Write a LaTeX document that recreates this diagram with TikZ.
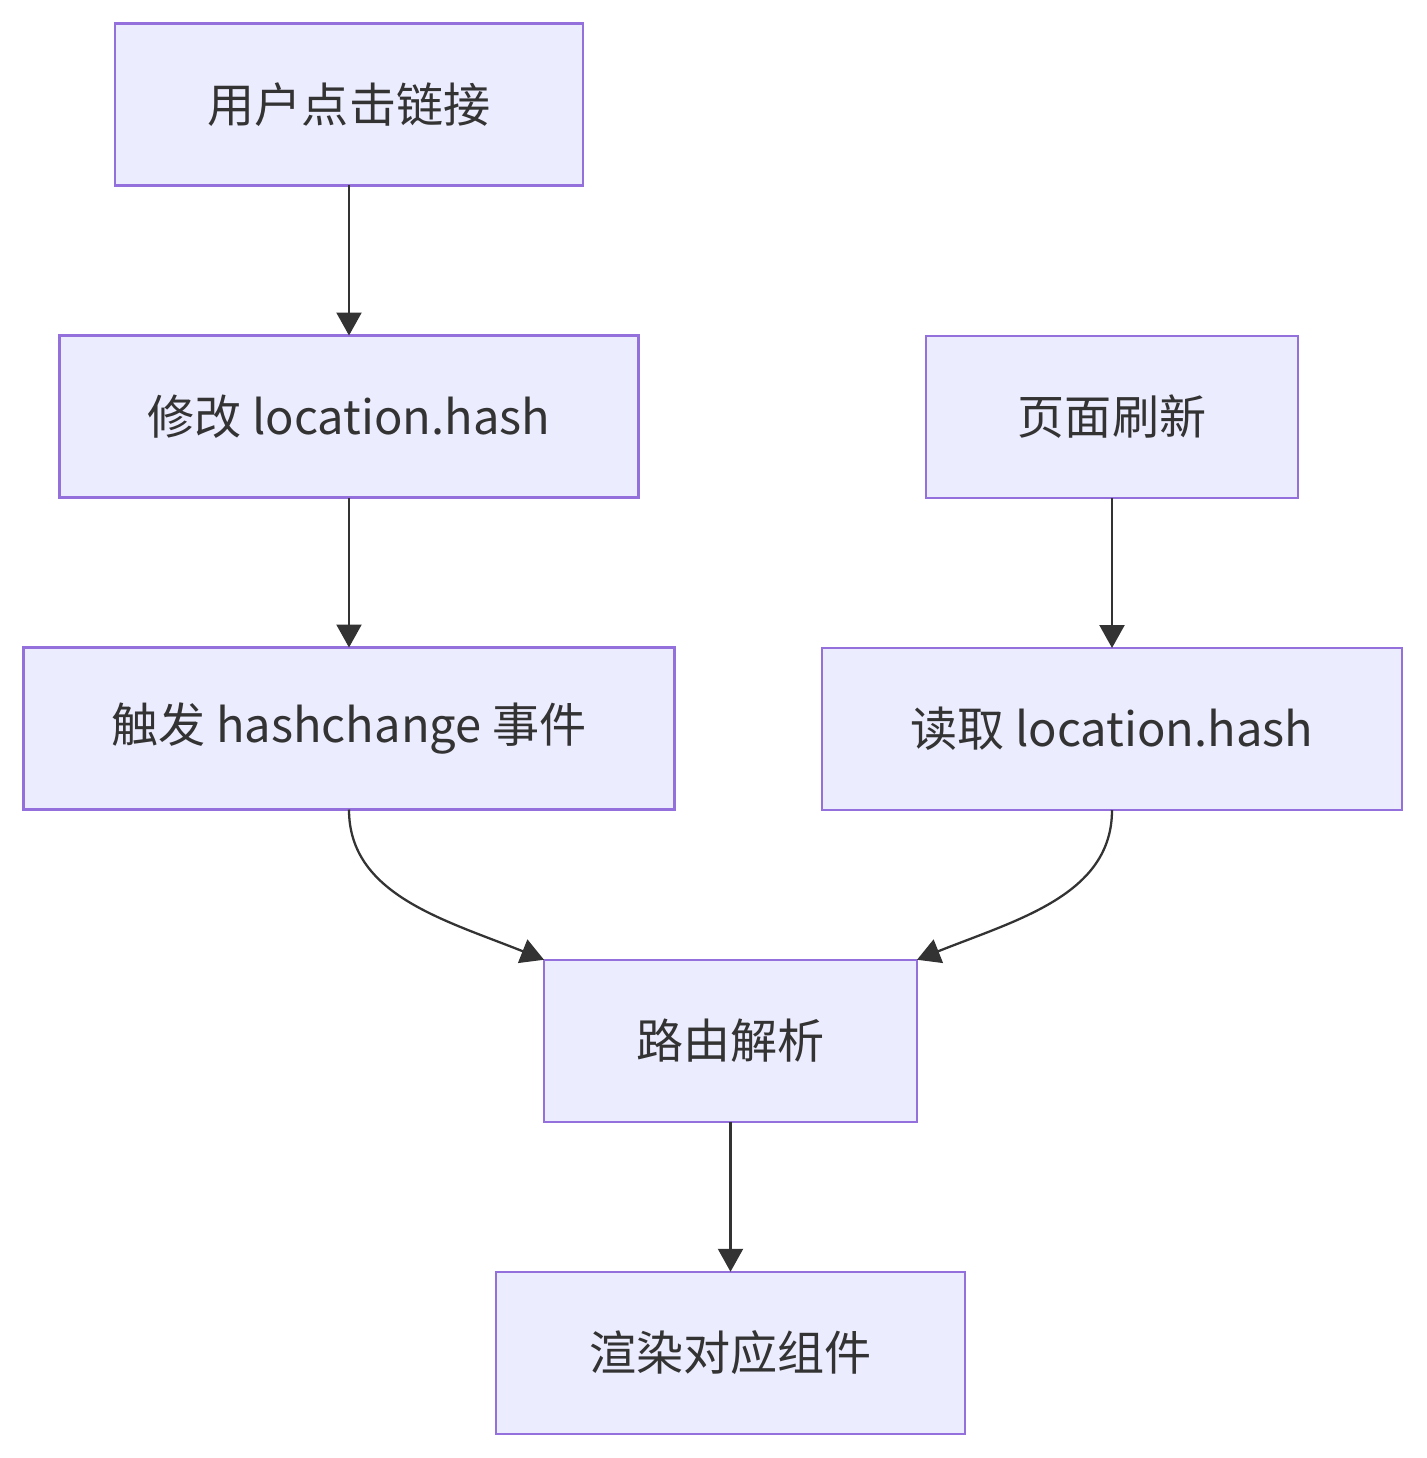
\documentclass[tikz,border=0pt]{standalone}
\usepackage{fontspec}
\setmainfont{Noto Sans CJK SC}
\usetikzlibrary{arrows.meta}
\usetikzlibrary{positioning, calc}

\definecolor{boxfill}{HTML}{ECECFF}
\definecolor{boxline}{HTML}{9370DB}
\definecolor{ink}{HTML}{333333}

\tikzset{
  box/.style={draw=boxline, fill=boxfill, line width=1.4pt, minimum height=3.24cm,
              text=ink, font=\fontsize{26.8}{32}\selectfont, inner sep=0pt, outer sep=0pt},
  flow/.style={draw=ink, line width=1.3pt, -{Triangle[length=0.46cm, width=0.5cm]}}
}

\begin{document}
\begin{tikzpicture}
  \useasboundingbox (0,0) rectangle (28.52,-29.16);

  % Nodes
  \node[box, minimum width=9.36cm] (click) at (6.98,-2.09) {用户点击链接};          % user action
  \node[box, minimum width=11.58cm, below=3cm of click] (modify) {修改 location.hash};
  \node[box, minimum width=13.02cm, below=3cm of modify] (trig) {触发 hashchange 事件};
  \node[box, minimum width=7.44cm] (refresh) at (22.24,-8.34) {页面刷新};           % reload path
  \node[box, minimum width=11.6cm, below=3cm of refresh] (read) {读取 location.hash};
  \coordinate (mid) at ($(trig.south)!0.5!(read.south)$);
  \node[box, minimum width=7.46cm, below=3cm of mid] (route) {路由解析};             % both paths meet
  \node[box, minimum width=9.38cm, below=3cm of route] (render) {渲染对应组件};

  % Edges
  \draw[flow] (click) -- (modify);
  \draw[flow] (modify) -- (trig);
  \draw[flow] (refresh) -- (read);
  \draw[flow] (trig.south) .. controls +(0,-1.7) and +(-2.0,0.8) .. (route.north west);
  \draw[flow] (read.south) .. controls +(0,-1.7) and +(2.0,0.8) .. (route.north east);
  \draw[flow] (route) -- (render);

\end{tikzpicture}
\end{document}
